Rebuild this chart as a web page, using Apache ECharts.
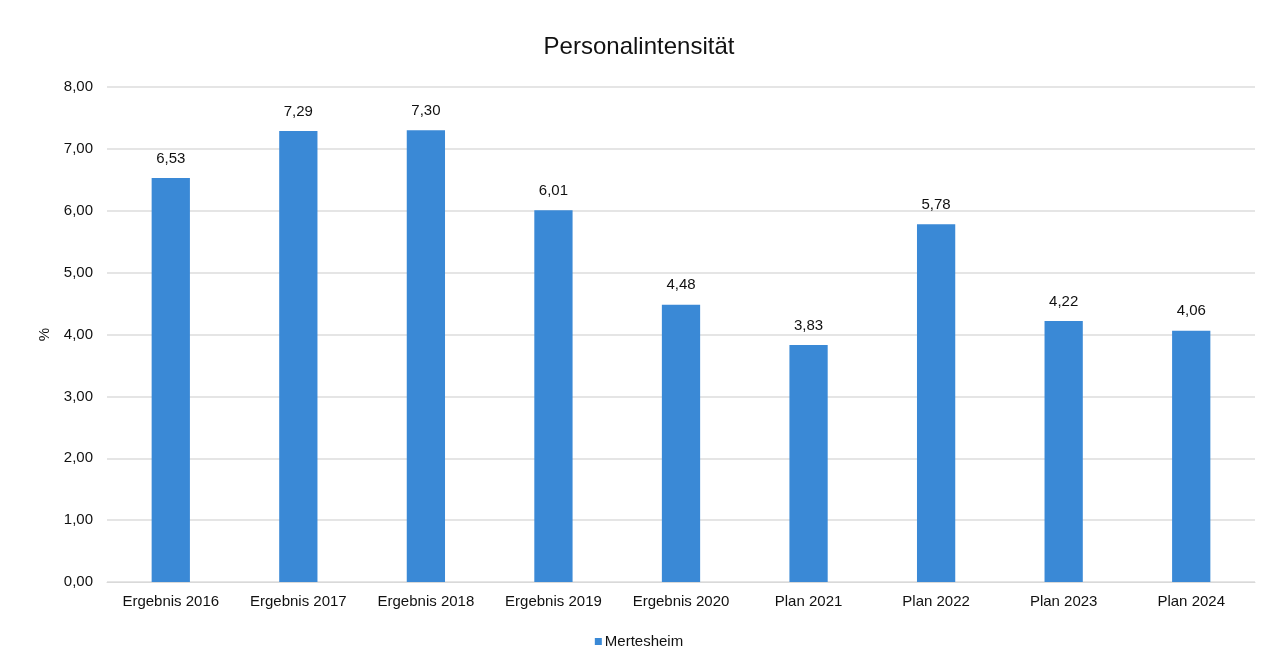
<!DOCTYPE html>
<html><head><meta charset="utf-8">
<script src="https://cdn.jsdelivr.net/npm/echarts@6/dist/echarts.min.js"></script>
<style>html,body{margin:0;padding:0;background:#fff}#c{width:1278px;height:668px}</style>
</head><body><div id="c"></div>
<script>
const categories = ['Ergebnis 2016','Ergebnis 2017','Ergebnis 2018','Ergebnis 2019','Ergebnis 2020','Plan 2021','Plan 2022','Plan 2023','Plan 2024'];
const values = [6.53, 7.29, 7.30, 6.01, 4.48, 3.83, 5.78, 4.22, 4.06];
const seriesName = 'Mertesheim';
const fmt = v => v.toFixed(2).replace('.', ',');
const chart = echarts.init(document.getElementById('c'));
chart.setOption({
  animation: false,
  textStyle: {fontFamily: 'Liberation Sans, Arial, sans-serif'},
  title: {text: 'Personalintensität', left: 'center', top: 30,
    textStyle: {fontSize: 24, fontWeight: 'normal', color: '#111'}},
  grid: {left: 107, right: 23, top: 87, bottom: 86},
  legend: {bottom: 14, left: 'center', itemWidth: 7, itemHeight: 7, itemGap: 4,
    icon: 'rect', textStyle: {fontSize: 15, color: '#111', padding: [0,0,0,-2]},
    data: [seriesName]},
  xAxis: {type: 'category', data: categories,
    axisLine: {lineStyle: {color: '#d9d9d9'}}, axisTick: {show: false},
    axisLabel: {fontSize: 15, color: '#111', margin: 12}},
  yAxis: {type: 'value', min: 0, max: 8, interval: 1, name: '%',
    nameLocation: 'middle', nameGap: 55, nameTextStyle: {fontSize: 15, color: '#111'},
    axisLabel: {fontSize: 15, color: '#111', margin: 14, formatter: fmt},
    splitLine: {lineStyle: {color: '#dcdcdc', width: 1.5}}},
  series: [{name: seriesName, type: 'bar', data: values, barWidth: '30%',
    itemStyle: {color: '#3a89d6'},
    label: {show: true, position: 'top', distance: 12, fontSize: 15, color: '#111',
      formatter: p => fmt(p.value)}}]
});
</script></body></html>
